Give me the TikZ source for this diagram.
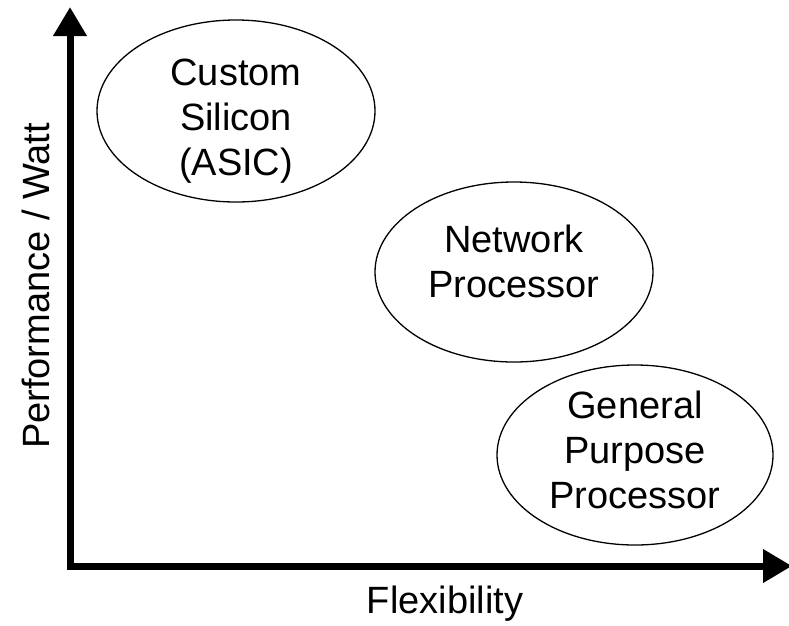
\documentclass[tikz,border=0pt]{standalone}
\usepackage{fontspec}
\setmainfont{Liberation Sans}
\usetikzlibrary{arrows.meta}
\begin{document}
\begin{tikzpicture}[x=1pt,y=-1pt,
  axis/.style={line width=7pt,line join=miter,
    {Triangle[length=29pt,width=32pt]}-{Triangle[length=29pt,width=32pt]}},
  region/.style={line width=1.3pt},
  lbl/.style={font=\fontsize{38}{45}\selectfont,align=center,inner sep=0pt}]
\useasboundingbox (0,0) rectangle (789,625);
% axes
\coordinate (ytop) at (70,7);
\coordinate (origin) at (70,566);
\coordinate (xend) at (792,566);
\draw[axis] (ytop) -- (origin) -- (xend);
% regions
\draw[region] (236,111) ellipse [x radius=139, y radius=91];
\draw[region] (514,272) ellipse [x radius=139, y radius=90];
\draw[region] (635,455) ellipse [x radius=138, y radius=90];
\node[lbl] (asic) at (236,121) {Custom\\Silicon\\(ASIC)};
\node[lbl] (np) at (514,261) {Network\\Processor};
\node[lbl] (gpp) at (635,450) {General\\Purpose\\Processor};
% axis labels
\node[lbl,anchor=base] (xlab) at (445,613) {Flexibility};
\node[lbl,rotate=90,anchor=base] (ylab) at (49,286) {Performance / Watt};
\end{tikzpicture}
\end{document}
